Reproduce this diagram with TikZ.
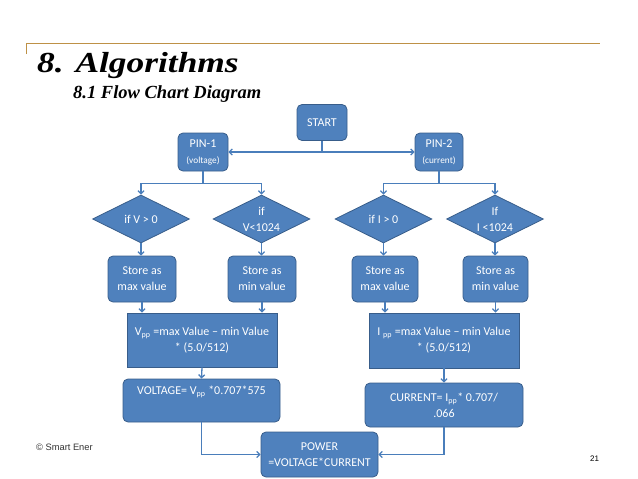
\documentclass[tikz,border=0pt]{standalone}
\usepackage{fontspec}
\setmainfont{Carlito}
\newfontfamily\titlefont{Liberation Serif}
\newfontfamily\footfont{Liberation Sans}
\usetikzlibrary{shapes.geometric,arrows.meta}
\definecolor{boxfill}{RGB}{79,129,189}
\definecolor{boxline}{RGB}{56,93,138}
\definecolor{conn}{RGB}{74,126,187}
\definecolor{gold}{RGB}{190,145,70}
\begin{document}
\begin{tikzpicture}[x=1pt,y=-1pt,
  rbox/.style={draw=boxline, fill=boxfill, rounded corners=5pt, text=white, align=center, inner sep=0pt, line width=0.8pt, font=\fontsize{12}{16}\selectfont},
  sbox/.style={rbox, rounded corners=0pt},
  dia/.style={draw=boxline, fill=boxfill, diamond, aspect=2, text=white, align=center, inner sep=0pt, line width=0.8pt, font=\fontsize{12}{16}\selectfont, minimum width=97pt, minimum height=48pt},
  conn/.style={draw=conn, line width=1.3pt, -{Straight Barb[length=3pt,width=6pt]}},
  plain/.style={draw=conn, line width=1.3pt}
]
\useasboundingbox (0,0) rectangle (638,479);
% header
\draw[gold, line width=1pt] (26,54) -- (26,43) -- (600,43);
\node[anchor=base west, inner sep=0pt, font=\titlefont\bfseries\itshape\fontsize{29}{31}\selectfont] (title) at (37,72) {\scalebox{1.22}[1]{8. Algorithms}};
\node[anchor=base west, inner sep=0pt, font=\titlefont\bfseries\itshape\fontsize{18.5}{20}\selectfont] (subtitle) at (73,98) {8.1 Flow Chart Diagram};
% nodes
\node[rbox, minimum width=50pt, minimum height=36pt] (start) at (322,122.5) {START};
\node[rbox, minimum width=50pt, minimum height=38pt] (pin1) at (203,152) {PIN-1\\{\fontsize{9.3}{10}\selectfont(voltage)}};
\node[rbox, minimum width=48pt, minimum height=38pt] (pin2) at (439,152) {PIN-2\\{\fontsize{9.3}{10}\selectfont(current)}};
\node[dia] (d1) at (141,219) {if V > 0};
\node[dia] (d2) at (261.5,219) {if\\V<1024};
\node[dia] (d3) at (383.5,219) {if I > 0};
\node[dia] (d4) at (495,219) {If\\I <1024};
\node[rbox, minimum width=68pt, minimum height=46pt] (s1) at (142,279) {Store as\\max value};
\node[rbox, minimum width=68pt, minimum height=46pt] (s2) at (262,279) {Store as\\min value};
\node[rbox, minimum width=66pt, minimum height=46pt] (s3) at (385,279) {Store as\\max value};
\node[rbox, minimum width=65pt, minimum height=46pt] (s4) at (495.5,279) {Store as\\min value};
\node[sbox, minimum width=150pt, minimum height=54pt] (vpp) at (202,340) {V\textsubscript{pp} =max Value -- min Value\\* (5.0/512)};
\node[sbox, minimum width=150pt, minimum height=55pt] (ipp) at (444,340.5) {I \textsubscript{pp} =max Value -- min Value\\* (5.0/512)};
\node[rbox, minimum width=157pt, minimum height=43pt] (volt) at (201.5,400.5) {};
\node[text=white, inner sep=0pt, font=\fontsize{12}{16}\selectfont] (voltlabel) at (201.5,392) {VOLTAGE= V\textsubscript{pp} *0.707*575};
\node[rbox, minimum width=158pt, minimum height=44pt] (cur) at (444,405) {CURRENT= I\textsubscript{pp}* 0.707/\\.066};
\node[rbox, minimum width=117pt, minimum height=45pt] (power) at (319.5,454.5) {POWER\\=VOLTAGE*CURRENT};
% footer
\node[anchor=base west, inner sep=0pt, text=black!80, font=\footfont\fontsize{9.3}{11}\selectfont] (copy) at (36,450) {\char"00A9\ Smart Ener};
\node[anchor=base west, inner sep=0pt, font=\footfont\fontsize{8}{9}\selectfont] (pagenum) at (590,461) {21};
% connectors
\draw[conn] (start.south) |- (pin1.east);
\draw[conn] (start.south) |- (pin2.west);
\draw[plain] (pin1.south) -- ++(0,12) coordinate (b1);
\draw[conn] (b1) -| (d1.north);
\draw[conn] (b1) -| (d2.north);
\draw[plain] (pin2.south) -- ++(0,12) coordinate (b2);
\draw[conn] (b2) -| (d3.north);
\draw[conn] (b2) -| (d4.north);
\draw[conn] (d1.south) -- (d1.south |- s1.north);
\draw[conn] (d2.south) -- (d2.south |- s2.north);
\draw[conn] (d3.south) -- (d3.south |- s3.north);
\draw[conn] (d4.south) -- (d4.south |- s4.north);
\draw[conn] (s1.south) -- (s1.south |- vpp.north);
\draw[conn] (s2.south) -- (s2.south |- vpp.north);
\draw[conn] (s3.south) -- (s3.south |- ipp.north);
\draw[conn] (s4.south) -- (s4.south |- ipp.north);
\draw[conn] (vpp.south) -- (volt.north);
\draw[conn] (ipp.south) -- (cur.north);
\draw[conn] (volt.south) |- (power.west);
\draw[conn] (cur.south) |- (power.east);
\end{tikzpicture}
\end{document}
